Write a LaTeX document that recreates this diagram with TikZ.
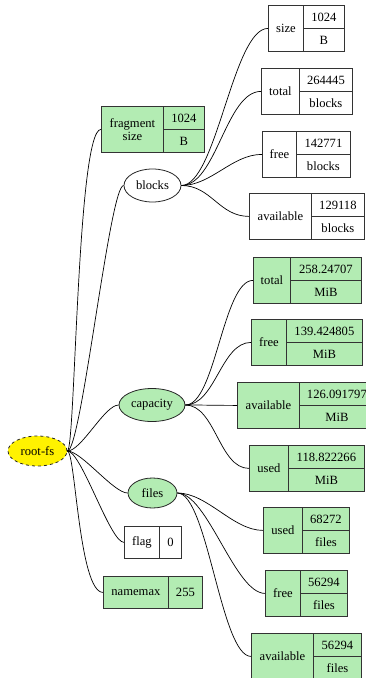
\documentclass[tikz,border=0pt]{standalone}
\usepackage{fontspec}
\setmainfont{Liberation Serif}
\usetikzlibrary{shapes.geometric}
\definecolor{recgreen}{RGB}{179,236,179}

\begin{document}
\begin{tikzpicture}[x=1pt,y=-1pt,
    font=\fontsize{12.6}{13.5}\selectfont,
    cell/.style={draw=black!80, line width=0.8pt, inner sep=0pt, anchor=north west},
    oval/.style={ellipse, draw=black!85, line width=0.8pt, inner sep=0pt},
    link/.style={line width=0.7pt}]
\useasboundingbox (0,0) rectangle (365,678);
% Records: name/left/split/right/top/height/label/value/unit/colour
\foreach \n/\L/\S/\R/\T/\H/\lab/\val/\unit/\col in {
    fragsize/101/163/204/106/46/{fragment\\size}/1024/B/recgreen,
    bsize/268/303/344/5/46/size/1024/B/white,
    btotal/261/299/352/68/46/total/264445/blocks/white,
    bfree/262/296/350/131/46/free/142771/blocks/white,
    bavail/249/311/364/193/46/available/129118/blocks/white,
    ctotal/253/290/361/257/46/total/258.24707/MiB/recgreen,
    cfree/251/286/362/319/46/free/139.424805/MiB/recgreen,
    cavail/237/299/374/382/46/available/126.091797/MiB/recgreen,
    cused/249/288/364/445/46/used/118.822266/MiB/recgreen,
    fused/263/302/349/507/46/used/68272/files/recgreen,
    ffree/265/300/347/570/46/free/56294/files/recgreen,
    favail/251/313/361/633/46/available/56294/files/recgreen} {
    \pgfmathsetmacro{\wl}{\S-\L}
    \pgfmathsetmacro{\wr}{\R-\S}
    \pgfmathsetmacro{\hh}{\H/2}
    \node[cell, fill=\col, minimum width=\wl pt, minimum height=\H pt, align=center]
        (\n) at (\L,\T) {\lab};
    \node[cell, fill=\col, minimum width=\wr pt, minimum height=\hh pt]
        (\n-val) at (\S,\T) {\val};
    \node[cell, fill=\col, minimum width=\wr pt, minimum height=\hh pt]
        (\n-unit) at (\S,\T+\hh) {\unit};
}
% One-line records
\foreach \n/\L/\S/\R/\T/\lab/\val/\col in {
    flag/124/159/181/526/flag/0/white,
    namemax/103/168/202/576/namemax/255/recgreen} {
    \pgfmathsetmacro{\wl}{\S-\L}
    \pgfmathsetmacro{\wr}{\R-\S}
    \node[cell, fill=\col, minimum width=\wl pt, minimum height=32pt] (\n) at (\L,\T) {\lab};
    \node[cell, fill=\col, minimum width=\wr pt, minimum height=32pt] (\n-val) at (\S,\T) {\val};
}
% Ellipses
\node[oval, dashed, fill=yellow, minimum width=59pt, minimum height=30pt] (root) at (37.5,451) {root-fs};
\node[oval, fill=white, minimum width=57pt, minimum height=33pt] (blocks) at (152.5,185.5) {blocks};
\node[oval, fill=recgreen, minimum width=66pt, minimum height=33pt] (capacity) at (152,405) {capacity};
\node[oval, fill=recgreen, minimum width=49pt, minimum height=30pt] (files) at (152.5,493) {files};
% Edges
\foreach \a/\b/\ka/\kb in {
    root/fragsize/8/24, root/blocks/14/14, root/capacity/14/14,
    root/files/14/14, root/flag/14/14, root/namemax/8/24,
    blocks/bsize/35/35, blocks/btotal/35/35, blocks/bfree/30/30, blocks/bavail/30/30,
    capacity/ctotal/30/30, capacity/cfree/30/30, capacity/cavail/20/20, capacity/cused/30/30,
    files/fused/30/30, files/ffree/30/30, files/favail/30/30} {
    \draw[link] (\a.east) .. controls +(\ka,0) and +(-\kb,0) .. (\b.west);
}
\end{tikzpicture}
\end{document}
